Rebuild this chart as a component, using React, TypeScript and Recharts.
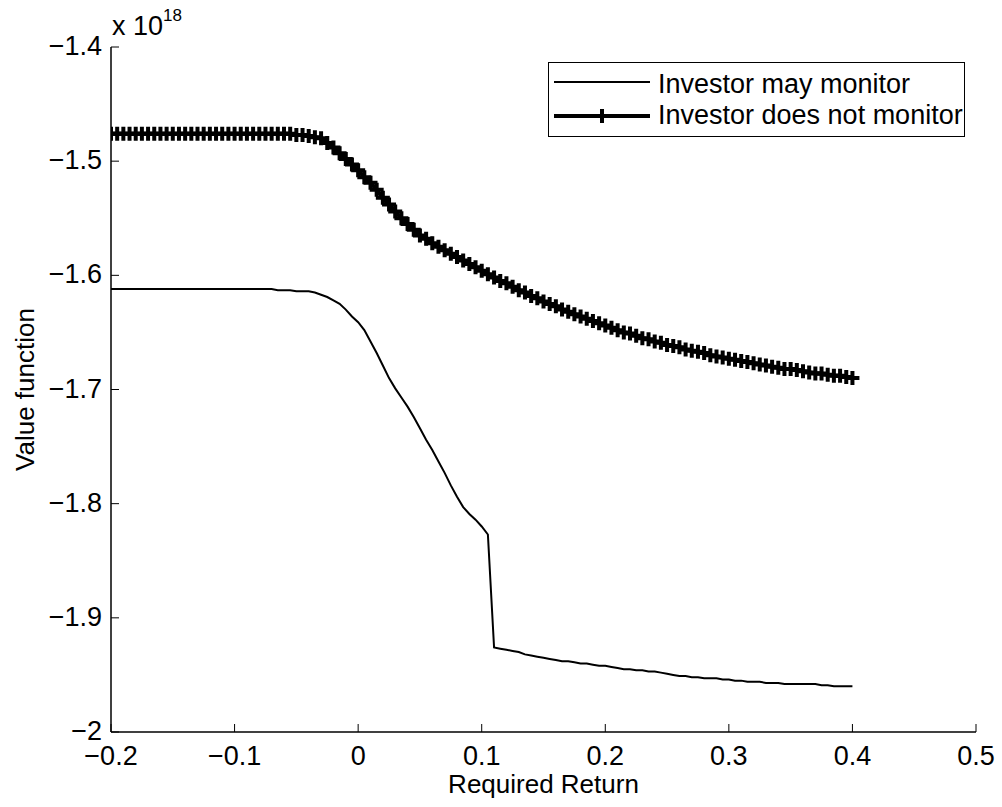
import React from 'react';
import { LineChart, Line, XAxis, YAxis, Legend, Label } from 'recharts';

const requiredReturn = [
  -0.200, -0.195, -0.190, -0.185, -0.180, -0.175, -0.170, -0.165, -0.160, -0.155,
  -0.150, -0.145, -0.140, -0.135, -0.130, -0.125, -0.120, -0.115, -0.110, -0.105,
  -0.100, -0.095, -0.090, -0.085, -0.080, -0.075, -0.070, -0.065, -0.060, -0.055,
  -0.050, -0.045, -0.040, -0.035, -0.030, -0.025, -0.020, -0.015, -0.010, -0.005,
  0.000, 0.005, 0.010, 0.015, 0.020, 0.025, 0.030, 0.035, 0.040, 0.045,
  0.050, 0.055, 0.060, 0.065, 0.070, 0.075, 0.080, 0.085, 0.090, 0.095,
  0.100, 0.105, 0.110, 0.115, 0.120, 0.125, 0.130, 0.135, 0.140, 0.145,
  0.150, 0.155, 0.160, 0.165, 0.170, 0.175, 0.180, 0.185, 0.190, 0.195,
  0.200, 0.205, 0.210, 0.215, 0.220, 0.225, 0.230, 0.235, 0.240, 0.245,
  0.250, 0.255, 0.260, 0.265, 0.270, 0.275, 0.280, 0.285, 0.290, 0.295,
  0.300, 0.305, 0.310, 0.315, 0.320, 0.325, 0.330, 0.335, 0.340, 0.345,
  0.350, 0.355, 0.360, 0.365, 0.370, 0.375, 0.380, 0.385, 0.390, 0.395,
  0.400,
];

// Value function (x 10^18), investor may monitor
const mayMonitor = [
  -1.612, -1.612, -1.612, -1.612, -1.612, -1.612, -1.612, -1.612, -1.612, -1.612,
  -1.612, -1.612, -1.612, -1.612, -1.612, -1.612, -1.612, -1.612, -1.612, -1.612,
  -1.612, -1.612, -1.612, -1.612, -1.612, -1.612, -1.612, -1.613, -1.613, -1.613,
  -1.614, -1.614, -1.614, -1.615, -1.617, -1.619, -1.622, -1.625, -1.630, -1.636,
  -1.641, -1.648, -1.658, -1.668, -1.679, -1.690, -1.699, -1.707, -1.715, -1.724,
  -1.734, -1.744, -1.753, -1.763, -1.773, -1.784, -1.794, -1.803, -1.809, -1.814,
  -1.820, -1.827, -1.926, -1.927, -1.928, -1.929, -1.930, -1.932, -1.933, -1.934,
  -1.935, -1.936, -1.937, -1.938, -1.938, -1.939, -1.940, -1.940, -1.941, -1.942,
  -1.942, -1.943, -1.944, -1.945, -1.945, -1.946, -1.946, -1.947, -1.947, -1.948,
  -1.949, -1.950, -1.951, -1.951, -1.952, -1.952, -1.953, -1.953, -1.953, -1.954,
  -1.954, -1.955, -1.955, -1.956, -1.956, -1.956, -1.957, -1.957, -1.957, -1.958,
  -1.958, -1.958, -1.958, -1.958, -1.958, -1.959, -1.959, -1.960, -1.960, -1.960,
  -1.960,
];

// Value function (x 10^18), investor does not monitor
const doesNotMonitor = [
  -1.476, -1.476, -1.476, -1.476, -1.476, -1.476, -1.476, -1.476, -1.476, -1.476,
  -1.476, -1.476, -1.476, -1.476, -1.476, -1.476, -1.476, -1.476, -1.476, -1.476,
  -1.476, -1.476, -1.476, -1.476, -1.476, -1.476, -1.476, -1.476, -1.476, -1.476,
  -1.477, -1.477, -1.478, -1.479, -1.480, -1.484, -1.488, -1.493, -1.498, -1.503,
  -1.508, -1.514, -1.519, -1.525, -1.532, -1.538, -1.544, -1.550, -1.555, -1.560,
  -1.565, -1.568, -1.572, -1.575, -1.578, -1.581, -1.584, -1.587, -1.590, -1.593,
  -1.596, -1.599, -1.602, -1.605, -1.607, -1.610, -1.613, -1.615, -1.618, -1.620,
  -1.623, -1.625, -1.627, -1.630, -1.632, -1.634, -1.636, -1.638, -1.640, -1.642,
  -1.644, -1.646, -1.648, -1.650, -1.651, -1.653, -1.655, -1.656, -1.658, -1.659,
  -1.661, -1.662, -1.663, -1.665, -1.666, -1.667, -1.668, -1.670, -1.671, -1.672,
  -1.673, -1.674, -1.675, -1.676, -1.677, -1.678, -1.679, -1.680, -1.681, -1.682,
  -1.682, -1.683, -1.684, -1.685, -1.686, -1.686, -1.687, -1.688, -1.688, -1.689,
  -1.690,
];

const xTicks = [-0.2, -0.1, 0, 0.1, 0.2, 0.3, 0.4, 0.5];
const yTicks = [-2, -1.9, -1.8, -1.7, -1.6, -1.5, -1.4];
const seriesNames = ['Investor may monitor', 'Investor does not monitor'];
const xLabel = 'Required Return';
const yLabel = 'Value function';
const exponentBase = 'x 10';
const exponent = '18';

const data = requiredReturn.map((x, i) => ({
  x,
  may: mayMonitor[i],
  not: doesNotMonitor[i],
}));

const FONT = '"Liberation Sans", Arial, Helvetica, sans-serif';
const FS = 27;
const LFS = 26;
const TL = 8;
const XM = 14;
const YM = 9;

const fmt = (v: number) => String(Math.round(v * 10) / 10).replace('-', '\u2212');

const XTickBottom = (props: any) => {
  const { x, y, payload } = props;
  const axisY = y - XM;
  return (
    <g>
      <line x1={x} x2={x} y1={axisY} y2={axisY - TL} stroke="#000" strokeWidth={1} />
      <text x={x} y={y} dy="0.71em" textAnchor="middle" fontSize={FS} fontFamily={FONT} fill="#000">
        {fmt(payload.value)}
      </text>
    </g>
  );
};

const XTickTop = (props: any) => {
  const { x, y } = props;
  const axisY = y + XM;
  return <line x1={x} x2={x} y1={axisY} y2={axisY + TL} stroke="#000" strokeWidth={1} />;
};

const YTickLeft = (props: any) => {
  const { x, y, payload } = props;
  const axisX = x + YM;
  return (
    <g>
      <line x1={axisX} x2={axisX + TL} y1={y} y2={y} stroke="#000" strokeWidth={1} />
      <text x={x} y={y} dy="0.3em" textAnchor="end" fontSize={FS} fontFamily={FONT} fill="#000">
        {fmt(payload.value)}
      </text>
    </g>
  );
};

const YTickRight = (props: any) => {
  const { x, y } = props;
  const axisX = x - YM;
  return <line x1={axisX} x2={axisX - TL} y1={y} y2={y} stroke="#000" strokeWidth={1} />;
};

const crossPath = (cx: number, cy: number, r: number) =>
  `M${cx - r},${cy}H${cx + r}M${cx},${cy - r}V${cy + r}`;

const CrossDot = (props: any) => {
  const { cx, cy, index } = props;
  if (cx == null || cy == null) return <g key={`d-${index}`} />;
  return <path key={`d-${index}`} d={crossPath(cx, cy, 7)} stroke="#000" strokeWidth={4} fill="none" />;
};

const LegendBox = () => (
  <div
    style={{
      width: 417,
      height: 75,
      boxSizing: 'border-box',
      border: '1.5px solid #000',
      background: '#fff',
      position: 'relative',
    }}
  >
    <svg width={417} height={75} style={{ position: 'absolute', left: -1.5, top: -1.5 }}>
      <line x1={6} x2={102} y1={20} y2={20} stroke="#000" strokeWidth={2} />
      <line x1={6} x2={102} y1={54} y2={54} stroke="#000" strokeWidth={4} />
      <path d={crossPath(54, 54, 7)} stroke="#000" strokeWidth={4} fill="none" />
      <text x={110} y={21} dy="0.355em" fontSize={FS} fontFamily={FONT} fill="#000">
        {seriesNames[0]}
      </text>
      <text x={110} y={52} dy="0.355em" fontSize={FS} fontFamily={FONT} fill="#000">
        {seriesNames[1]}
      </text>
    </svg>
  </div>
);

const XLabelContent = (props: any) => {
  const vb = props.viewBox || {};
  const cx = vb.x + vb.width / 2;
  return (
    <text x={cx} y={793} textAnchor="middle" fontSize={LFS} fontFamily={FONT} fill="#000">
      {xLabel}
    </text>
  );
};

const YLabelContent = (props: any) => {
  const vb = props.viewBox || {};
  const cy = vb.y + vb.height / 2;
  return (
    <text
      x={34}
      y={cy}
      transform={`rotate(-90, 34, ${cy})`}
      textAnchor="middle"
      fontSize={LFS}
      fontFamily={FONT}
      fill="#000"
    >
      {yLabel}
    </text>
  );
};

const ExponentContent = (props: any) => {
  const vb = props.viewBox || {};
  const left = vb.x + vb.width;
  return (
    <text x={left + 1} y={35} fontSize={FS} fontFamily={FONT} fill="#000">
      {exponentBase}
      <tspan dy={-14} fontSize={17}>
        {exponent}
      </tspan>
    </text>
  );
};

export default function App() {
  return (
    <div style={{ position: 'absolute', left: 0, top: 0, width: 1002, height: 807, background: '#fff' }}>
      <LineChart
        width={1002}
        height={807}
        data={data}
        margin={{ top: 47, right: 26, bottom: 0, left: 0 }}
        style={{ fontFamily: FONT }}
      >
        <XAxis
          dataKey="x"
          type="number"
          domain={[-0.2, 0.5]}
          ticks={xTicks}
          interval={0}
          allowDataOverflow
          height={75}
          tickSize={0}
          tickMargin={XM}
          tick={<XTickBottom />}
          axisLine={{ stroke: '#000', strokeWidth: 1.5 }}
          tickLine={false}
        >
          <Label content={<XLabelContent />} />
        </XAxis>
        <XAxis
          xAxisId="top"
          orientation="top"
          dataKey="x"
          type="number"
          domain={[-0.2, 0.5]}
          ticks={xTicks}
          interval={0}
          allowDataOverflow
          height={0}
          tickSize={0}
          tickMargin={XM}
          tick={<XTickTop />}
          axisLine={{ stroke: '#000', strokeWidth: 1.5 }}
          tickLine={false}
        />
        <YAxis
          type="number"
          domain={[-2, -1.4]}
          ticks={yTicks}
          interval={0}
          allowDataOverflow
          width={111}
          tickSize={0}
          tickMargin={YM}
          tick={<YTickLeft />}
          axisLine={{ stroke: '#000', strokeWidth: 1.5 }}
          tickLine={false}
        >
          <Label content={<YLabelContent />} />
          <Label content={<ExponentContent />} />
        </YAxis>
        <YAxis
          yAxisId="right"
          orientation="right"
          type="number"
          domain={[-2, -1.4]}
          ticks={yTicks}
          interval={0}
          allowDataOverflow
          width={0}
          tickSize={0}
          tickMargin={YM}
          tick={<YTickRight />}
          axisLine={{ stroke: '#000', strokeWidth: 1.5 }}
          tickLine={false}
        />
        <Line
          type="linear"
          dataKey="may"
          name={seriesNames[0]}
          stroke="#000"
          strokeWidth={2}
          dot={false}
          isAnimationActive={false}
        />
        <Line
          type="linear"
          dataKey="not"
          name={seriesNames[1]}
          stroke="#000"
          strokeWidth={4}
          dot={<CrossDot />}
          isAnimationActive={false}
        />
        <Legend
          layout="horizontal"
          verticalAlign="middle"
          align="center"
          content={<LegendBox />}
          wrapperStyle={{ position: 'absolute', left: 548, top: 62, width: 417, height: 75 }}
        />
      </LineChart>
    </div>
  );
}
